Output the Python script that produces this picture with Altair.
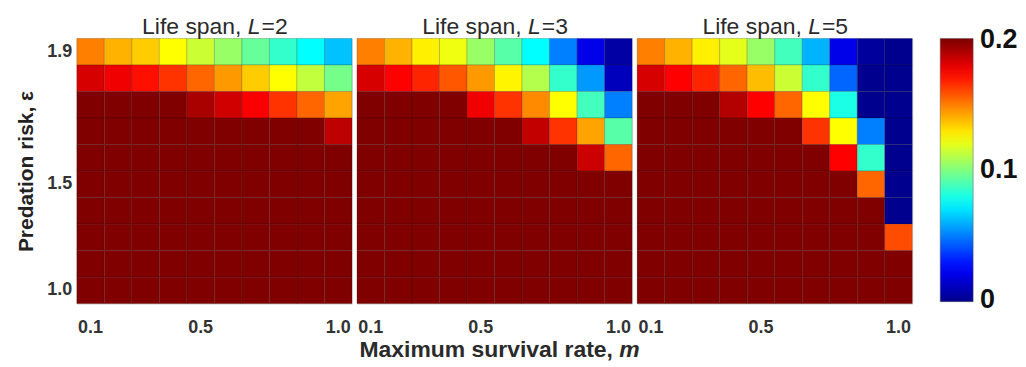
import altair as alt
import pandas as pd

# ---- data ----
m_labels = ["0.1", "0.2", "0.3", "0.4", "0.5", "0.6", "0.7", "0.8", "0.9", "1.0"]
x_tick_values = ["0.1", "0.5", "1.0"]
# rows indexed from bottom (0) to top (9)
row_index = [9, 8, 7, 6, 5, 4, 3, 2, 1, 0]  # order of rows in the lists below (top first)
y_tick_labels = {9: "1.9", 4: "1.5", 0: "1.0"}
life_spans = [2, 3, 5]
legend_values = [0, 0.1, 0.2]

# values, top row (epsilon = 1.9) first, columns m = 0.1 .. 1.0
vals_L2 = [
    [0.150, 0.140, 0.135, 0.125, 0.115, 0.105, 0.095, 0.085, 0.075, 0.063],
    [0.183, 0.178, 0.172, 0.165, 0.155, 0.145, 0.135, 0.125, 0.113, 0.098],
    [0.200, 0.200, 0.200, 0.200, 0.192, 0.184, 0.176, 0.165, 0.155, 0.143],
    [0.200, 0.200, 0.200, 0.200, 0.200, 0.200, 0.200, 0.200, 0.200, 0.188],
    [0.200, 0.200, 0.200, 0.200, 0.200, 0.200, 0.200, 0.200, 0.200, 0.200],
    [0.200, 0.200, 0.200, 0.200, 0.200, 0.200, 0.200, 0.200, 0.200, 0.200],
    [0.200, 0.200, 0.200, 0.200, 0.200, 0.200, 0.200, 0.200, 0.200, 0.200],
    [0.200, 0.200, 0.200, 0.200, 0.200, 0.200, 0.200, 0.200, 0.200, 0.200],
    [0.200, 0.200, 0.200, 0.200, 0.200, 0.200, 0.200, 0.200, 0.200, 0.200],
    [0.200, 0.200, 0.200, 0.200, 0.200, 0.200, 0.200, 0.200, 0.200, 0.200],
]
vals_L3 = [
    [0.150, 0.140, 0.128, 0.122, 0.105, 0.092, 0.075, 0.050, 0.020, 0.005],
    [0.183, 0.175, 0.168, 0.158, 0.145, 0.127, 0.110, 0.085, 0.055, 0.010],
    [0.200, 0.200, 0.200, 0.200, 0.178, 0.165, 0.148, 0.125, 0.088, 0.050],
    [0.200, 0.200, 0.200, 0.200, 0.200, 0.200, 0.187, 0.165, 0.143, 0.092],
    [0.200, 0.200, 0.200, 0.200, 0.200, 0.200, 0.200, 0.200, 0.185, 0.155],
    [0.200, 0.200, 0.200, 0.200, 0.200, 0.200, 0.200, 0.200, 0.200, 0.200],
    [0.200, 0.200, 0.200, 0.200, 0.200, 0.200, 0.200, 0.200, 0.200, 0.200],
    [0.200, 0.200, 0.200, 0.200, 0.200, 0.200, 0.200, 0.200, 0.200, 0.200],
    [0.200, 0.200, 0.200, 0.200, 0.200, 0.200, 0.200, 0.200, 0.200, 0.200],
    [0.200, 0.200, 0.200, 0.200, 0.200, 0.200, 0.200, 0.200, 0.200, 0.200],
]
vals_L5 = [
    [0.150, 0.140, 0.128, 0.120, 0.105, 0.088, 0.060, 0.020, 0.003, 0.000],
    [0.183, 0.175, 0.168, 0.155, 0.138, 0.115, 0.085, 0.045, 0.000, 0.000],
    [0.200, 0.200, 0.200, 0.190, 0.175, 0.155, 0.125, 0.080, 0.000, 0.000],
    [0.200, 0.200, 0.200, 0.200, 0.200, 0.200, 0.165, 0.125, 0.050, 0.000],
    [0.200, 0.200, 0.200, 0.200, 0.200, 0.200, 0.200, 0.175, 0.085, 0.000],
    [0.200, 0.200, 0.200, 0.200, 0.200, 0.200, 0.200, 0.200, 0.155, 0.000],
    [0.200, 0.200, 0.200, 0.200, 0.200, 0.200, 0.200, 0.200, 0.200, 0.000],
    [0.200, 0.200, 0.200, 0.200, 0.200, 0.200, 0.200, 0.200, 0.200, 0.160],
    [0.200, 0.200, 0.200, 0.200, 0.200, 0.200, 0.200, 0.200, 0.200, 0.200],
    [0.200, 0.200, 0.200, 0.200, 0.200, 0.200, 0.200, 0.200, 0.200, 0.200],
]
panel_values = {2: vals_L2, 3: vals_L3, 5: vals_L5}

title_prefix = "Life span,"
title_var = "L"
x_title_main = "Maximum survival rate,"
x_title_var = "m"
y_title = "Predation risk, ε"

records = []
for L in life_spans:
    grid = panel_values[L]
    for r, row in zip(row_index, grid):
        for m, v in zip(m_labels, row):
            records.append({"L": L, "m": m, "row": r, "value": v})
df = pd.DataFrame(records)

FONT = "Liberation Sans"
W, H = 276, 266
TITLE_SIZE = 23
XT_SIZE = 23
SPACE_EM = 0.278

jet = alt.Scale(
    domain=[-0.001, 0, 0.025, 0.075, 0.125, 0.175, 0.2, 0.2012],
    range=["#00008F", "#00008F", "#0000FF", "#00FFFF", "#FFFF00", "#FF0000",
           "#800000", "#800000"],
    interpolate="rgb",
)

label_expr = " : ".join(
    f"datum.value == {k} ? '{v}'" for k, v in y_tick_labels.items()
) + " : ''"


def text_layer(text, x, y, size, align, weight="normal", style="normal"):
    return (
        alt.Chart(pd.DataFrame({"t": [text]}))
        .mark_text(
            align=align,
            baseline="alphabetic",
            font=FONT,
            fontSize=size,
            fontWeight=weight,
            fontStyle=style,
            color="#2a2a2a",
        )
        .encode(text="t:N", x=alt.value(x), y=alt.value(y))
    )


def panel(L, idx):
    y_axis = (
        alt.Axis(
            values=list(y_tick_labels.keys()),
            labelExpr=label_expr,
            title=y_title,
            ticks=False,
            domain=False,
            labelFont=FONT,
            labelFontSize=18,
            labelFontWeight="bold",
            labelColor="#333",
            labelPadding=5,
            titleFont=FONT,
            titleFontSize=21,
            titleFontWeight="bold",
            titleColor="#222",
            titlePadding=10,
            labelAngle=0,
        )
        if idx == 0
        else None
    )
    x_axis = alt.Axis(
        values=x_tick_values,
        title=None,
        ticks=False,
        domain=False,
        labelAngle=0,
        labelFont=FONT,
        labelFontSize=18,
        labelFontWeight="bold",
        labelColor="#333",
        labelPadding=15,
    )
    heat = (
        alt.Chart(df[df["L"] == L])
        .mark_rect(stroke="#000", strokeOpacity=0.25, strokeWidth=0.7)
        .encode(
            x=alt.X("m:O", sort=m_labels, axis=x_axis, scale=alt.Scale(paddingInner=0)),
            y=alt.Y("row:O", sort="descending", axis=y_axis, scale=alt.Scale(paddingInner=0)),
            color=alt.Color(
                "value:Q",
                scale=jet,
                legend=alt.Legend(
                    title=None,
                    values=legend_values,
                    format=".1~f",
                    gradientLength=264,
                    gradientThickness=33,
                    gradientStrokeColor="#555",
                    gradientStrokeWidth=0.5,
                    labelFont=FONT,
                    labelFontSize=27,
                    labelFontWeight="bold",
                    labelColor="#111",
                    labelOffset=7,
                    offset=27,
                ),
            ),
        )
    )
    # panel title "Life span, L=n" with italic L
    w_prefix = (4.614 - SPACE_EM) * TITLE_SIZE
    w_space = SPACE_EM * TITLE_SIZE
    w_var = 0.556 * TITLE_SIZE
    w_suffix = 1.14 * TITLE_SIZE
    total = w_prefix + w_space + w_var + w_suffix
    x_start = W / 2 - total / 2
    layers = [
        heat,
        text_layer(title_prefix, x_start + w_prefix, -4, TITLE_SIZE, "right"),
        text_layer(title_var, x_start + w_prefix + w_space, -4, TITLE_SIZE, "left",
                   style="italic"),
        text_layer(f"={L}", x_start + w_prefix + w_space + w_var + 1, -4, TITLE_SIZE, "left"),
    ]
    if idx == 1:
        w_main = (11.338 - SPACE_EM) * XT_SIZE
        w_sp = SPACE_EM * XT_SIZE
        w_m = 0.889 * XT_SIZE
        xs = W / 2 - (w_main + w_sp + w_m) / 2 + 5
        layers += [
            text_layer(x_title_main, xs + w_main, H + 54, XT_SIZE, "right", weight="bold"),
            text_layer(x_title_var, xs + w_main + w_sp, H + 54, XT_SIZE, "left",
                       weight="bold", style="italic"),
        ]
    return alt.layer(*layers).properties(width=W, height=H)


chart = (
    alt.hconcat(*[panel(L, i) for i, L in enumerate(life_spans)], spacing=5,
                bounds="flush")
    .properties(padding={"left": 7, "top": 7, "right": 0, "bottom": 0})
    .configure_view(stroke="#aaa", strokeWidth=1)
    .configure(background="white")
)

chart.save("out.html", embed_options={"renderer": "svg", "actions": False})
